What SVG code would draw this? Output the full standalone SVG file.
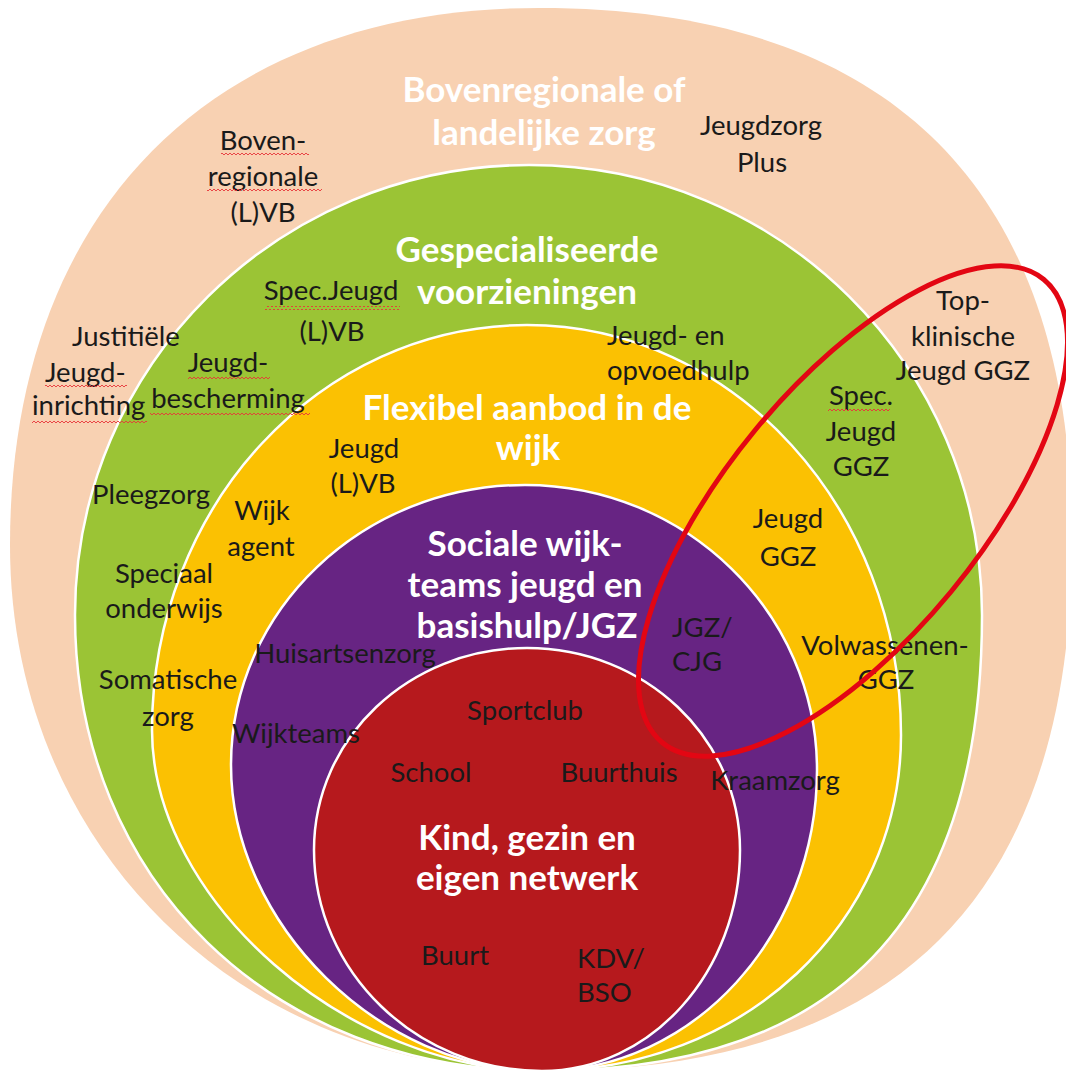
<svg xmlns="http://www.w3.org/2000/svg" width="1066" height="1070" viewBox="0 0 1066 1070">
<defs>
<style>
.ring{stroke:#fff;stroke-width:2.5}
.lbl{font-family:Lato,"Liberation Sans",sans-serif;font-size:27.5px;fill:#1a1a1a}
.ttl{font-family:Lato,"Liberation Sans",sans-serif;font-size:35px;font-weight:bold;fill:#fff;text-anchor:middle}
.m{text-anchor:middle}
.wavy{fill:url(#wavy)}
</style>
<pattern id="wavy" width="4" height="4" patternUnits="userSpaceOnUse"><path d="M0 3 L2 1 L4 3" fill="none" stroke="#e8353a" stroke-width="0.9"/></pattern>
</defs>
<rect width="1066" height="1070" fill="#fff"/>
<g id="ring-bovenregionaal"><path fill="#f8d1b2" d="M10,545 C10,212 211,8 539,8 C891,8 1072,189 1072,540 C1072,896 897,1071 542,1071 C239,1071 10,845 10,545 Z"/></g>
<g id="ring-gespecialiseerd"><path class="ring" fill="#9bc435" d="M75,615 C75,366 278,165 529,165 C779,165 982,366 982,615 C982,920 837,1071 542,1071 C272,1071 75,880 75,615 Z"/></g>
<g id="ring-flexibel"><path class="ring" fill="#fbc102" d="M152,730 C152,506 320,325 527,325 C734,325 901,509 901,735 C901,923 743,1071 542,1071 C347,1071 152,900 152,730 Z"/></g>
<g id="ring-sociaal"><path class="ring" fill="#672483" d="M231,765 C231,610 363,485 525,485 C686,485 817,613 817,770 C817,936 693,1071 542,1071 C380,1071 231,924 231,765 Z"/></g>
<g id="ring-kind"><path class="ring" fill="#b6191d" d="M314,850 C314,738 409,648 527,648 C645,648 740,738 740,850 C740,972 651,1071 542,1071 C417,1071 314,972 314,850 Z"/></g>

<g id="labels-bovenregionaal">
<text class="ttl" x="544" y="102">Bovenregionale of</text>
<text class="ttl" x="544" y="145">landelijke zorg</text>
<text class="lbl m" x="263" y="150">Boven-</text>
<text class="lbl m" x="263" y="186">regionale</text>
<text class="lbl m" x="263" y="222">(L)VB</text>
<text class="lbl m" x="761" y="135">Jeugdzorg</text>
<text class="lbl m" x="762" y="172">Plus</text>
<text class="lbl" x="72" y="346">Justitiële</text>
<text class="lbl" x="45" y="382">Jeugd-</text>
<text class="lbl" x="32" y="415">inrichting</text>
<text class="lbl m" x="963" y="310">Top-</text>
<text class="lbl m" x="963" y="346">klinische</text>
<text class="lbl m" x="963" y="380">Jeugd GGZ</text>
</g>
<g id="labels-gespecialiseerd">
<text class="ttl" x="527" y="262">Gespecialiseerde</text>
<text class="ttl" x="527" y="304">voorzieningen</text>
<text class="lbl m" x="331" y="300">Spec.Jeugd</text>
<text class="lbl m" x="332" y="341">(L)VB</text>
<text class="lbl m" x="228" y="372">Jeugd-</text>
<text class="lbl m" x="228" y="408">bescherming</text>
<text class="lbl" x="607" y="345">Jeugd- en</text>
<text class="lbl" x="607" y="380">opvoedhulp</text>
<text class="lbl m" x="151" y="504">Pleegzorg</text>
<text class="lbl m" x="164" y="583">Speciaal</text>
<text class="lbl m" x="164" y="618">onderwijs</text>
<text class="lbl m" x="168" y="689">Somatische</text>
<text class="lbl m" x="168" y="726">zorg</text>
<text class="lbl m" x="861" y="405">Spec.</text>
<text class="lbl m" x="861" y="441">Jeugd</text>
<text class="lbl m" x="861" y="476">GGZ</text>
</g>
<g id="labels-flexibel">
<text class="ttl" x="527" y="420">Flexibel aanbod in de</text>
<text class="ttl" x="528" y="460">wijk</text>
<text class="lbl m" x="364" y="458">Jeugd</text>
<text class="lbl m" x="363" y="493">(L)VB</text>
<text class="lbl m" x="262" y="520">Wijk</text>
<text class="lbl m" x="261" y="556">agent</text>
<text class="lbl m" x="788" y="528">Jeugd</text>
<text class="lbl m" x="788" y="566">GGZ</text>
<text class="lbl m" x="885" y="655">Volwassenen-</text>
<text class="lbl m" x="886" y="689">GGZ</text>
</g>
<g id="labels-sociaal">
<text class="ttl" x="525" y="556">Sociale wijk-</text>
<text class="ttl" x="525" y="597">teams jeugd en</text>
<text class="ttl" x="527" y="638">basishulp/JGZ</text>
<text class="lbl m" x="345" y="663">Huisartsenzorg</text>
<text class="lbl m" x="296" y="743">Wijkteams</text>
<text class="lbl" x="672" y="637">JGZ/</text>
<text class="lbl" x="672" y="671">CJG</text>
<text class="lbl m" x="775" y="790">Kraamzorg</text>
</g>
<g id="labels-kind">
<text class="ttl" x="527" y="850">Kind, gezin en</text>
<text class="ttl" x="527" y="890">eigen netwerk</text>
<text class="lbl m" x="525" y="720">Sportclub</text>
<text class="lbl m" x="431" y="782">School</text>
<text class="lbl m" x="619" y="782">Buurthuis</text>
<text class="lbl m" x="455" y="965">Buurt</text>
<text class="lbl" x="577" y="968">KDV/</text>
<text class="lbl" x="577" y="1002">BSO</text>
</g>
<g id="spelling-marks">
<rect class="wavy" x="221" y="152" width="88" height="4"/>
<rect class="wavy" x="207" y="189" width="115" height="4"/>
<rect class="wavy" x="265" y="306" width="135" height="4"/>
<rect class="wavy" x="45" y="385" width="82" height="4"/>
<rect class="wavy" x="32" y="419" width="115" height="4"/>
<rect class="wavy" x="188" y="375" width="82" height="4"/>
<rect class="wavy" x="150" y="411" width="160" height="4"/>
<rect class="wavy" x="828" y="407" width="62" height="4"/>
</g>
<g id="highlight">
<ellipse cx="853" cy="511" rx="300" ry="127" transform="rotate(-50.5 853 511)" fill="none" stroke="#e30613" stroke-width="5"/>
</g>
</svg>
